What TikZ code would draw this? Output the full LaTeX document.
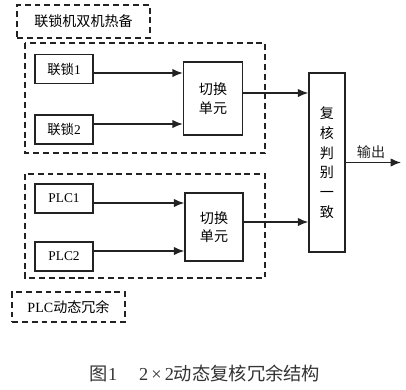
\documentclass[tikz,border=0pt]{standalone}
\usepackage{fontspec}
\setmainfont{Liberation Serif}
\newfontfamily\cjk{Noto Sans CJK SC}
\usepackage{tikz}
\usetikzlibrary{arrows.meta,positioning,calc}
\definecolor{ink}{HTML}{222222}
\definecolor{capt}{HTML}{333333}
\tikzset{
  unit/.style={draw=ink,line width=1pt,minimum width=1.45cm,minimum height=.72cm,inner sep=0pt,font=\fontsize{9.5}{12}\selectfont},
  tag/.style={draw=ink,line width=1.1pt,dash pattern=on 4.2pt off 2.8pt,inner sep=0pt,font=\fontsize{10}{12}\selectfont},
  grp/.style={draw=ink,line width=1.1pt,dash pattern=on 4.2pt off 2.8pt},
  arr/.style={-{Latex[length=2.6mm,width=2.1mm]},line width=1pt,color=ink}
}

\begin{document}
\begin{tikzpicture}[x=.025cm,y=-.025cm]
  \useasboundingbox (0,0) rectangle (406,389);
  % dashed groups
  \draw[grp] (25,43) rectangle (265,153);
  \draw[grp] (25,174) rectangle (265,278);
  \node[tag,minimum width=3.325cm,minimum height=.825cm] (tagA) at (83.5,21.5) {\cjk 联锁机双机热备};
  \node[tag,minimum width=2.825cm,minimum height=.75cm] (tagB) at (68.5,307) {PLC{\cjk 动态冗余}};
  % sources
  \node[unit] (ls1) at (64,69) {{\cjk 联锁}1};
  \node[unit] (ls2) at (64,129.5) {{\cjk 联锁}2};
  \node[unit] (plc1) at (64,198.5) {PLC1};
  \node[unit] (plc2) at (64,256.5) {PLC2};
  % switches and checker
  \node[unit,minimum width=1.475cm,minimum height=1.825cm,align=center,font=\cjk\fontsize{10}{13}\selectfont] (sw1) at (213,98.5) {切换\\单元};
  \node[unit,minimum width=1.45cm,minimum height=1.7cm,align=center,font=\cjk\fontsize{10}{13}\selectfont] (sw2) at (214,227) {切换\\单元};
  \node[unit,minimum width=.9cm,minimum height=4.475cm,align=center,font=\cjk\fontsize{10}{14}\selectfont] (chk) at (327,162.5) {复\\核\\判\\别\\一\\致};
  \coordinate (out) at (401,162.5);
  % links
  \draw[arr] ($(ls1.east)+(0,4)$) -- ($(ls1.east -| sw1.west)+(0,4)$);
  \draw[arr] ($(ls2.east)+(0,-5.5)$) -- ($(ls2.east -| sw1.west)+(0,-5.5)$);
  \draw[arr] ($(plc1.east)+(0,4.5)$) -- ($(plc1.east -| sw2.west)+(0,4.5)$);
  \draw[arr] ($(plc2.east)+(0,-5.5)$) -- ($(plc2.east -| sw2.west)+(0,-5.5)$);
  \draw[arr] ($(sw1.east)+(0,-5.5)$) -- ($(sw1.east -| chk.west)+(0,-5.5)$);
  \draw[arr] ($(sw2.east)+(0,-5)$) -- ($(sw2.east -| chk.west)+(0,-5)$);
  \draw[arr] (chk.east) -- (out);
  \node[font=\cjk\fontsize{10}{12}\selectfont,text=ink] (outlbl) at (371,152) {输出};
  % caption
  \node[font=\fontsize{13}{15}\selectfont,text=capt] (cap) at (205,373) {{\cjk 图}1\hspace{1.2em}2\,×\,2{\cjk 动态复核冗余结构}};
\end{tikzpicture}
\end{document}
